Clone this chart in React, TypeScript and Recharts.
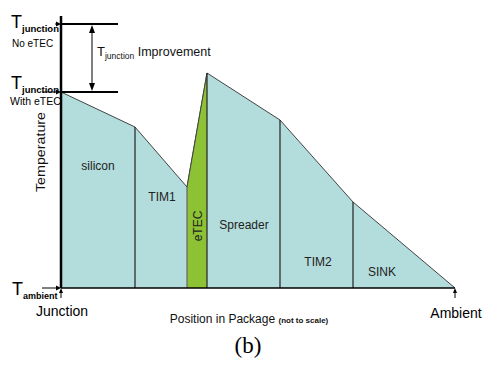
import {
  ComposedChart,
  Area,
  XAxis,
  YAxis,
  ReferenceLine,
  ReferenceDot,
} from 'recharts';

// position along the package (schematic units) and temperature profile
const positions = [0, 74, 126, 146, 219, 292, 394];
const temperature = [196, 161, 101, 215, 168, 86, 0];
const layers = ['silicon', 'TIM1', 'eTEC', 'Spreader', 'TIM2', 'SINK'];
const etecIndex = 2;

const tJunctionNoEtec = 264;
const tJunctionEtec = 196;
const tAmbient = 0;
const tTop = 272;

const data = positions.map((pos, i) => ({
  pos,
  temp: temperature[i],
  etec: i === etecIndex || i === etecIndex + 1 ? temperature[i] : null,
}));

// where each layer name sits (data units)
const layerLabelAt: Record<string, [number, number, number?]> = {
  silicon: [37, 122],
  TIM1: [101, 91],
  eTEC: [137, 62, -90],
  Spreader: [183, 63],
  TIM2: [257, 26],
  SINK: [321, 16],
};

const FONT = '"Liberation Sans", Arial, sans-serif';
const TEAL = '#b3dcdc';
const GREEN = '#8cc234';

function RightArrow({ x, y, from }: { x: number; y: number; from: number }) {
  return (
    <g>
      <line x1={from} y1={y} x2={x - 3} y2={y} stroke="#000" strokeWidth={1} />
      <path d={`M${x},${y} L${x - 5},${y - 2.5} L${x - 5},${y + 2.5} Z`} fill="#000" />
    </g>
  );
}

// big "T" with a bold subscript
function TSub({ x, y, sub, size = 9.5 }: { x: number; y: number; sub: string; size?: number }) {
  return (
    <text x={x} y={y} fontFamily={FONT}>
      <tspan fontSize={18}>T</tspan>
      <tspan fontSize={size} fontWeight="bold" dy={4}>{sub}</tspan>
    </text>
  );
}

function YTick(props: any) {
  const { x, y, payload } = props;
  const v = payload.value;
  if (v === tJunctionNoEtec) {
    return (
      <g fontFamily={FONT}>
        <TSub x={x - 50} y={y + 4} sub="junction" />
        <text x={x - 49} y={y + 23} fontSize={10}>No eTEC</text>
        <RightArrow x={x} y={y} from={x - 6} />
      </g>
    );
  }
  if (v === tJunctionEtec) {
    return (
      <g fontFamily={FONT}>
        <TSub x={x - 50} y={y - 3} sub="junction" />
        <text x={x - 51} y={y + 13} fontSize={10.5}>With eTEC</text>
        <RightArrow x={x} y={y} from={x - 19} />
      </g>
    );
  }
  return (
    <g fontFamily={FONT}>
      <TSub x={x - 49} y={y + 7} sub="ambient" size={9} />
      <RightArrow x={x} y={y} from={x - 19} />
    </g>
  );
}

function XTick(props: any) {
  const { x, y, payload } = props;
  const isStart = payload.value === positions[0];
  return (
    <g fontFamily={FONT}>
      <line x1={x} y1={y + 10} x2={x} y2={y + 2} stroke="#000" strokeWidth={1} />
      <path d={`M${x},${y} L${x - 2},${y + 5} L${x + 2},${y + 5} Z`} fill="#000" />
      <text x={x + 1} y={y + (isStart ? 28 : 30)} fontSize={14} textAnchor="middle">
        {isStart ? 'Junction' : 'Ambient'}
      </text>
    </g>
  );
}

function ArrowHead({ cx, cy, up }: { cx: number; cy: number; up: boolean }) {
  const d = up
    ? `M${cx},${cy} L${cx - 3},${cy + 8} L${cx + 3},${cy + 8} Z`
    : `M${cx},${cy} L${cx - 3},${cy - 8} L${cx + 3},${cy - 8} Z`;
  return <path d={d} fill="#000" />;
}

export default function App() {
  const etecStart = positions[etecIndex];
  return (
    <div style={{ position: 'absolute', left: 0, top: 0, width: 495, height: 371, background: '#fff' }}>
      <ComposedChart
        width={495}
        height={371}
        data={data}
        margin={{ top: 16, right: 40, bottom: 0, left: 0 }}
      >
        <XAxis
          type="number"
          dataKey="pos"
          domain={[positions[0], positions[positions.length - 1]]}
          ticks={[positions[0], positions[positions.length - 1]]}
          height={83}
          tickSize={0}
          tickMargin={0}
          tick={<XTick />}
          axisLine={{ stroke: '#000', strokeWidth: 1.5 }}
          label={{
            content: ({ viewBox }: any) => (
              <g>
                <text
                  x={viewBox.x + viewBox.width / 2 - 9}
                  y={viewBox.y + 35}
                  textAnchor="middle"
                  fontFamily={FONT}
                  fontSize={12}
                  fill="#111"
                >
                  Position in Package{' '}
                  <tspan fontSize={8} fontWeight="bold">(not to scale)</tspan>
                </text>
                <text
                  x={viewBox.x + viewBox.width / 2 - 10}
                  y={viewBox.y + 65}
                  textAnchor="middle"
                  fontFamily='"Liberation Serif", "Times New Roman", serif'
                  fontSize={23}
                  fill="#000"
                >
                  (b)
                </text>
              </g>
            ),
          }}
        />
        <YAxis
          type="number"
          domain={[tAmbient, tTop]}
          ticks={[tAmbient, tJunctionEtec, tJunctionNoEtec]}
          width={61}
          tickSize={0}
          tickMargin={0}
          tick={<YTick />}
          axisLine={{ stroke: '#000', strokeWidth: 2.5 }}
          label={{
            content: ({ viewBox }: any) => {
              const cx = viewBox.x + 45;
              const cy = viewBox.y + viewBox.height / 2;
              return (
                <text
                  x={cx}
                  y={cy}
                  transform={`rotate(-90 ${cx} ${cy})`}
                  textAnchor="middle"
                  fontFamily={FONT}
                  fontSize={12}
                  textLength={80}
                  lengthAdjust="spacingAndGlyphs"
                  fill="#111"
                >
                  Temperature
                </text>
              );
            },
          }}
        />

        <Area
          type="linear"
          dataKey="temp"
          stroke="#444"
          strokeWidth={1}
          fill={TEAL}
          fillOpacity={1}
          isAnimationActive={false}
        />
        <Area
          type="linear"
          dataKey="etec"
          stroke="#444"
          strokeWidth={1}
          fill={GREEN}
          fillOpacity={1}
          connectNulls={false}
          isAnimationActive={false}
        />

        {positions.slice(1, -1).map((p, i) => (
          <ReferenceLine
            key={p}
            segment={[
              { x: p, y: 0 },
              { x: p, y: temperature[i + 1] },
            ]}
            stroke={p === etecStart ? '#666' : '#222'}
            strokeWidth={1.2}
          />
        ))}

        {/* junction temperature levels */}
        <ReferenceLine
          segment={[
            { x: 0, y: tJunctionNoEtec },
            { x: 57, y: tJunctionNoEtec },
          ]}
          stroke="#000"
          strokeWidth={2}
        />
        <ReferenceLine
          segment={[
            { x: 0, y: tJunctionEtec },
            { x: 57, y: tJunctionEtec },
          ]}
          stroke="#000"
          strokeWidth={2}
        />
        <ReferenceLine
          segment={[
            { x: 31, y: tJunctionEtec + 4 },
            { x: 31, y: tJunctionNoEtec - 4 },
          ]}
          stroke="#000"
          strokeWidth={1}
        />
        <ReferenceDot
          x={31}
          y={tJunctionNoEtec - 1}
          r={0}
          shape={(p: any) => <ArrowHead cx={p.cx} cy={p.cy} up />}
        />
        <ReferenceDot
          x={31}
          y={tJunctionEtec + 1}
          r={0}
          shape={(p: any) => <ArrowHead cx={p.cx} cy={p.cy} up={false} />}
        />
        <ReferenceDot
          x={36}
          y={232}
          r={0}
          shape={(p: any) => (
            <text x={p.cx} y={p.cy} fontFamily={FONT} fill="#111">
              <tspan fontSize={13}>T</tspan>
              <tspan fontSize={8.5} dy={3}>junction</tspan>
              <tspan fontSize={12.5} dy={-3}> Improvement</tspan>
            </text>
          )}
        />

        {layers.map((name) => {
          const [lx, ly, angle] = layerLabelAt[name];
          return (
            <ReferenceDot
              key={name}
              x={lx}
              y={ly}
              r={0}
              shape={(p: any) => (
                <text
                  x={p.cx}
                  y={p.cy}
                  textAnchor="middle"
                  dominantBaseline="central"
                  transform={angle ? `rotate(${angle} ${p.cx} ${p.cy})` : undefined}
                  fontFamily={FONT}
                  fontSize={12}
                  fill="#222"
                >
                  {name}
                </text>
              )}
            />
          );
        })}
      </ComposedChart>
    </div>
  );
}
